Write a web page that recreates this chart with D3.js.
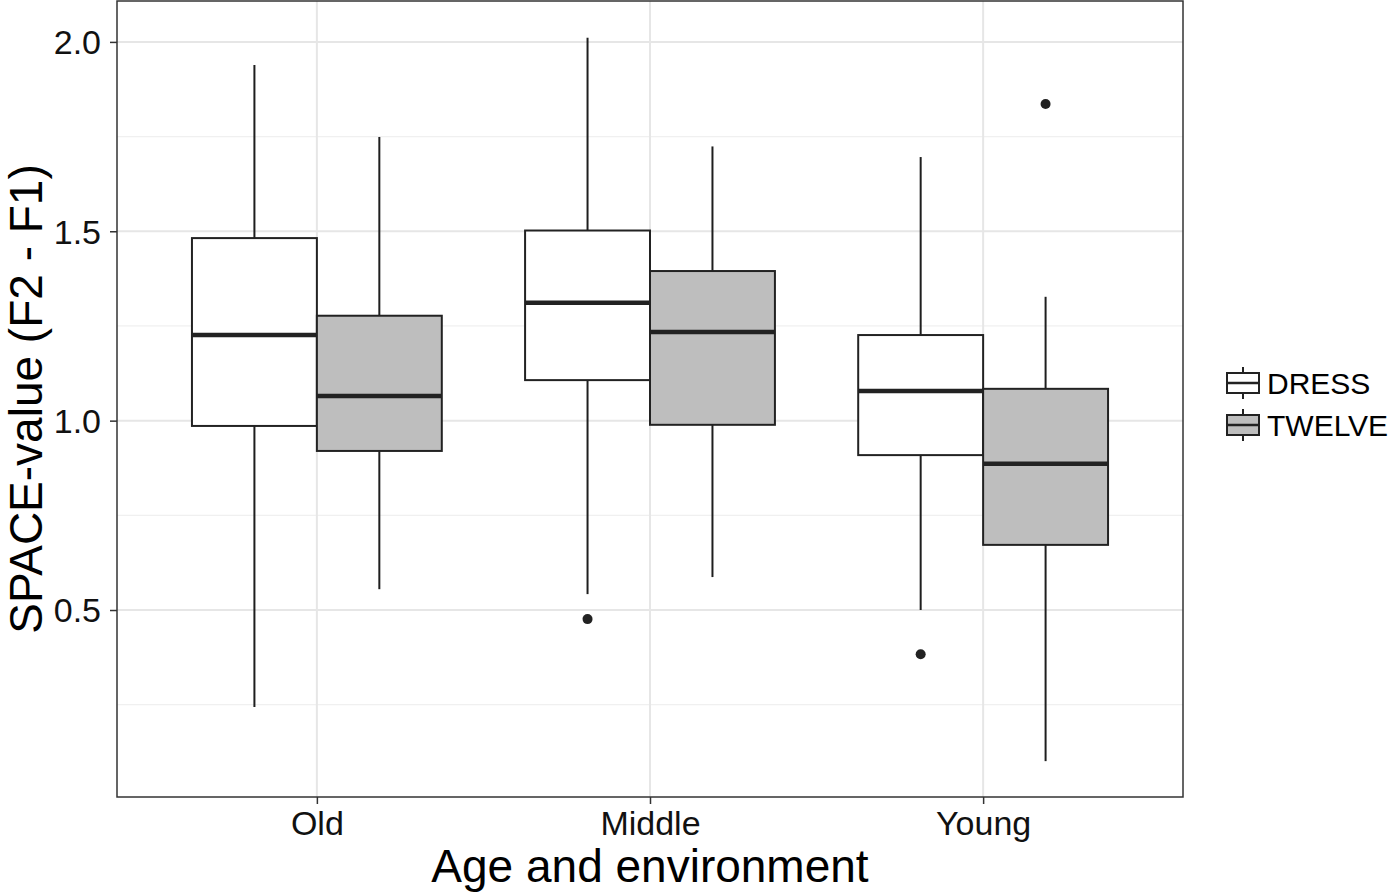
<!DOCTYPE html>
<html>
<head>
<meta charset="utf-8">
<script src="https://cdn.jsdelivr.net/npm/d3@7"></script>
<style>
  body { margin: 0; background: #fff; }
  svg { font-family: "Liberation Sans", Arial, sans-serif; }
</style>
</head>
<body>
<div id="chart"></div>
<script>
(function() {
  // data
  var groups = ['Old', 'Middle', 'Young'];
  var series = ['DRESS', 'TWELVE'];
  var fills = ['#ffffff', '#bebebe'];

  // [lower whisker, Q1, median, Q3, upper whisker] per group
  var dress  = [[0.244, 0.986, 1.226, 1.482, 1.939],
                [0.542, 1.107, 1.311, 1.502, 2.011],
                [0.500, 0.909, 1.078, 1.226, 1.696]];
  var twelve = [[0.555, 0.920, 1.065, 1.277, 1.749],
                [0.587, 0.989, 1.234, 1.395, 1.724],
                [0.101, 0.672, 0.886, 1.084, 1.327]];
  var dressOut  = [[], [0.476], [0.383]];
  var twelveOut = [[], [], [1.836]];

  var yTicks = [0.5, 1.0, 1.5, 2.0];
  var yMinor = [0.25, 0.75, 1.25, 1.75];

  const W = 1400, H = 893;
  const L = 117, R = 1183, T = 1, B = 797;

  var svg = d3.select('#chart').append('svg')
    .attr('width', W).attr('height', H);

  var y = d3.scaleLinear().domain([0.0063, 2.108]).range([B, T]);

  // discrete axis: 0.6 expansion each side, like ggplot
  var x = d3.scalePoint().domain(groups).range([L, R]).padding(0.6);
  var step = x.step();
  var boxW = step * 0.375;

  // grid
  var grid = svg.append('g');
  grid.selectAll('.minor').data(yMinor).enter().append('line')
    .attr('x1', L).attr('x2', R)
    .attr('y1', function(d) { return y(d); }).attr('y2', function(d) { return y(d); })
    .attr('stroke', '#f0f0f0').attr('stroke-width', 1.2);
  grid.selectAll('.major').data(yTicks).enter().append('line')
    .attr('x1', L).attr('x2', R)
    .attr('y1', function(d) { return y(d); }).attr('y2', function(d) { return y(d); })
    .attr('stroke', '#e6e6e6').attr('stroke-width', 2);
  grid.selectAll('.vmajor').data(groups).enter().append('line')
    .attr('y1', T).attr('y2', B)
    .attr('x1', function(d) { return x(d); }).attr('x2', function(d) { return x(d); })
    .attr('stroke', '#e6e6e6').attr('stroke-width', 2);

  // boxes
  var sets = [dress, twelve];
  var outs = [dressOut, twelveOut];
  var boxes = svg.append('g');

  sets.forEach(function(s, si) {
    s.forEach(function(v, gi) {
      var cx = x(groups[gi]) + (si == 0 ? -boxW / 2 : boxW / 2);
      var g = boxes.append('g');

      g.append('line')
        .attr('x1', cx).attr('x2', cx)
        .attr('y1', y(v[4])).attr('y2', y(v[3]))
        .attr('stroke', '#1e1e1e').attr('stroke-width', 2);
      g.append('line')
        .attr('x1', cx).attr('x2', cx)
        .attr('y1', y(v[1])).attr('y2', y(v[0]))
        .attr('stroke', '#1e1e1e').attr('stroke-width', 2);
      g.append('rect')
        .attr('x', cx - boxW / 2).attr('width', boxW)
        .attr('y', y(v[3])).attr('height', y(v[1]) - y(v[3]))
        .attr('fill', fills[si])
        .attr('stroke', '#222').attr('stroke-width', 2);
      g.append('line')
        .attr('x1', cx - boxW / 2).attr('x2', cx + boxW / 2)
        .attr('y1', y(v[2])).attr('y2', y(v[2]))
        .attr('stroke', '#222').attr('stroke-width', 4.5);

      outs[si][gi].forEach(function(o) {
        g.append('circle')
          .attr('cx', cx).attr('cy', y(o)).attr('r', 5)
          .attr('fill', '#222');
      });
    });
  });

  // panel border
  svg.append('rect')
    .attr('x', L).attr('y', T).attr('width', R - L).attr('height', B - T)
    .attr('fill', 'none').attr('stroke', '#333').attr('stroke-width', 1.5);

  // axes
  var yAxis = svg.append('g')
    .attr('transform', 'translate(' + L + ',0)')
    .call(d3.axisLeft(y).tickValues(yTicks).tickFormat(d3.format('.1f'))
      .tickSize(7).tickPadding(9));
  yAxis.select('.domain').remove();
  yAxis.selectAll('.tick line').attr('stroke', '#333').attr('stroke-width', 1.5);
  yAxis.selectAll('.tick text')
    .attr('font-size', 34).attr('fill', '#111').attr('dy', '0.35em');

  var xAxis = svg.append('g')
    .attr('transform', 'translate(0,' + B + ')')
    .call(d3.axisBottom(x).tickSize(7).tickPadding(7));
  xAxis.select('.domain').remove();
  xAxis.selectAll('.tick line').attr('stroke', '#333').attr('stroke-width', 1.5);
  xAxis.selectAll('.tick text')
    .attr('font-size', 34).attr('fill', '#111').attr('dy', '0.72em');

  // titles
  svg.append('text')
    .attr('x', (L + R) / 2).attr('y', 882)
    .attr('text-anchor', 'middle').attr('font-size', 46).attr('fill', '#000')
    .text('Age and environment');

  svg.append('text')
    .attr('transform', 'translate(42,' + ((T + B) / 2) + ') rotate(-90)')
    .attr('text-anchor', 'middle').attr('font-size', 46).attr('fill', '#000')
    .text('SPACE-value (F2 - F1)');

  // legend
  var legend = svg.append('g');
  series.forEach(function(name, i) {
    var cy = 383 + i * 42;
    var kx = 1227, kw = 32;
    var k = legend.append('g');
    k.append('line')
      .attr('x1', kx + kw / 2).attr('x2', kx + kw / 2)
      .attr('y1', cy - 16).attr('y2', cy + 16)
      .attr('stroke', '#222').attr('stroke-width', 2);
    k.append('rect')
      .attr('x', kx).attr('y', cy - 10).attr('width', kw).attr('height', 20)
      .attr('fill', fills[i]).attr('stroke', '#222').attr('stroke-width', 2);
    k.append('line')
      .attr('x1', kx).attr('x2', kx + kw)
      .attr('y1', cy).attr('y2', cy)
      .attr('stroke', '#222').attr('stroke-width', 2.5);
    k.append('text')
      .attr('x', 1267).attr('y', cy + 11)
      .attr('font-size', 30).attr('fill', '#000')
      .text(name);
  });
})();
</script>
</body>
</html>
